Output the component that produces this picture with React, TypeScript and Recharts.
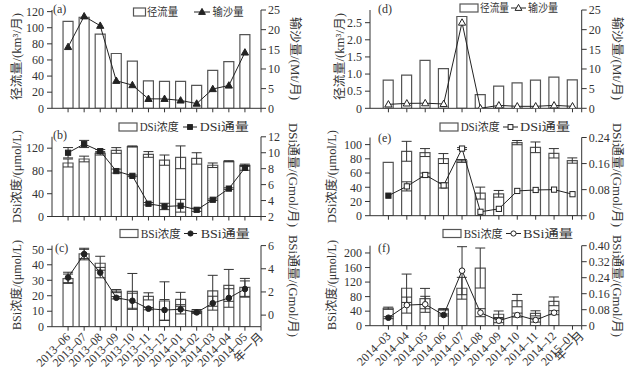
import React from "react";
import { ComposedChart, Bar, Line, XAxis, YAxis, ErrorBar } from "recharts";

const W = 632;
const H = 377;
const FONT = '"Liberation Serif", "Times New Roman", "Noto Sans CJK SC", serif';
const INK = "#333";

// left column: 2013-06 .. 2014-05
const monthsL = ["2013–06", "2013–07", "2013–08", "2013–09", "2013–10", "2013–11", "2013–12", "2014–01", "2014–02", "2014–03", "2014–04", "2014–05"];
const runoffL = [108, 113, 92, 68, 58.5, 34, 33.5, 33.5, 28.5, 47, 58, 91.5];
const sedimentL = [15.6, 23.4, 21, 7, 5.9, 2.4, 2.4, 2, 1.2, 4.9, 5.8, 14.2];
const dsiConcL = [94, 101, 111, 116, 123, 109, 99, 104, 102, 90, 97, 90];
const dsiConcErrL = [7, 5, 3, 5, 1, 5, 9, 20, 10, 4, 1, 2];
const dsiFluxL = [10, 11.1, 10.2, 7.7, 7.1, 3.6, 3.26, 3.35, 2.84, 4.1, 5.5, 8.1];
const dsiFluxErrL = [0.65, 0.45, 0.2, 0.25, 0.1, 0.15, 0.4, 0.8, 0.2, 0.1, 0.1, 0.3];
const bsiConcL = [31, 47, 41, 23, 22.8, 19.6, 16.6, 17.7, 10.1, 23.2, 26.7, 25.4];
const bsiConcErrL = [3, 3, 4.5, 1, 11.6, 2.3, 12.4, 4.5, 1, 10, 10.3, 5.8];
const bsiFluxL = [3.25, 5.27, 3.67, 1.5, 1.24, 0.56, 0.44, 0.5, 0.23, 1.03, 1.48, 2.25];
const bsiFluxErrL = [0.45, 0.5, 0.45, 0.1, 0.65, 0.1, 0.9, 0.4, 0.1, 0.6, 0.8, 0.7];

// right column: 2014-03 .. 2015-01
const monthsR = ["2014–03", "2014–04", "2014–05", "2014–06", "2014–07", "2014–08", "2014–09", "2014–10", "2014–11", "2014–12", "2015–01"];
const runoffR = [0.82, 0.97, 1.4, 1.16, 2.68, 0.4, 0.65, 0.74, 0.82, 0.91, 0.83];
const sedimentR = [1.0, 1.25, 1.3, 1.1, 21.8, 0, 0.75, 0.5, 0.5, 0.75, 0.5];
const dsiConcR = [75, 90.6, 88.8, 80.4, 77, 31.8, 30.8, 102.8, 96.2, 87.8, 77.6];
const dsiConcErrR = [0, 14, 5.6, 7, 2, 8.4, 4.7, 3, 7.5, 6.6, 3.7];
const dsiFluxR = [0.0615, 0.09, 0.125, 0.093, 0.206, 0.012, 0.021, 0.076, 0.079, 0.08, 0.066];
const dsiFluxErrR = [0, 0.014, 0.006, 0.008, 0.003, 0, 0, 0, 0, 0, 0];
const bsiConcR = [48, 103, 74.6, 45, 103, 158.6, 31.5, 69, 34, 67, null];
const bsiConcErrR = [3, 39, 28, 2, 30, 55, 9, 17, 7, 12, null];
const bsiFluxR = [0.04, 0.103, 0.107, 0.0535, 0.275, 0.065, 0.025, 0.053, 0.028, 0.065, null];
const bsiFluxErrR = [0.005, 0.04, 0.04, 0.005, 0.12, 0.02, 0.01, 0.01, 0.01, 0.01, null];

const dataL = monthsL.map((m, i) => ({
  x: i + 1,
  runoff: runoffL[i],
  sediment: sedimentL[i],
  dsiConc: dsiConcL[i],
  dsiConcErr: dsiConcErrL[i],
  dsiFlux: dsiFluxL[i],
  dsiFluxErr: dsiFluxErrL[i],
  bsiConc: bsiConcL[i],
  bsiConcErr: bsiConcErrL[i],
  bsiFlux: bsiFluxL[i],
  bsiFluxErr: bsiFluxErrL[i],
}));

const dataR = monthsR.map((m, i) => ({
  x: i + 1,
  runoff: runoffR[i],
  sediment: sedimentR[i],
  dsiConc: dsiConcR[i],
  dsiConcErr: dsiConcErrR[i],
  dsiFlux: dsiFluxR[i],
  dsiFluxErr: dsiFluxErrR[i],
  bsiConc: bsiConcR[i],
  bsiConcErr: bsiConcErrR[i],
  bsiFlux: bsiFluxR[i],
  bsiFluxErr: bsiFluxErrR[i],
}));

const xTicksL = [1, 2, 3, 4, 5, 6, 7, 8, 9, 10, 11, 12, 13];
const xTicksR = [1, 2, 3, 4, 5, 6, 7, 8, 9, 10, 11, 11.5];
const labelL = (v: number) => (v === 13 ? "年一月" : monthsL[v - 1]);
const labelR = (v: number) => (v === 11.5 ? "年一月" : monthsR[v - 1]);

function makeDot(shape: string, filled: (i: number) => boolean) {
  return (p: any) => {
    const { cx, cy, index, value } = p;
    if (cx == null || cy == null || value == null) return <g key={`d${index}`} />;
    const fill = filled(index) ? "#222" : "#fff";
    if (shape === "tri") {
      return (
        <polygon key={`d${index}`} points={`${cx},${cy - 3.8} ${cx - 3.6},${cy + 2.6} ${cx + 3.6},${cy + 2.6}`} fill={fill} stroke="#222" strokeWidth={1} />
      );
    }
    if (shape === "sq") {
      return <rect key={`d${index}`} x={cx - 2.6} y={cy - 2.6} width={5.2} height={5.2} fill={fill} stroke="#222" strokeWidth={1} />;
    }
    return <circle key={`d${index}`} cx={cx} cy={cy} r={2.8} fill={fill} stroke="#222" strokeWidth={1} />;
  };
}

function Panel(props: any) {
  const { data, box, xDomain, xTicks, xLabel, showX, left, right, bar, barErr, line, lineErr, dot } = props;
  const yW = 40;
  const xH = 50;
  const margin = { top: box.t, bottom: H - box.b - xH, left: box.l - yW, right: W - box.r - yW };
  const tickStyle = { fill: INK, fontSize: 12, fontFamily: FONT };
  return (
    <div style={{ position: "absolute", left: 0, top: 0 }}>
      <ComposedChart width={W} height={H} data={data} margin={margin}>
        <XAxis
          type="number"
          dataKey="x"
          domain={xDomain}
          ticks={xTicks}
          interval={0}
          allowDataOverflow
          height={xH}
          tickSize={4}
          stroke={INK}
          tick={(t: any) =>
            showX ? (
              <text
                key={`t${t.index}`}
                x={t.x + 3}
                y={t.y + 5}
                transform={`rotate(-45, ${t.x + 3}, ${t.y + 5})`}
                textAnchor="end"
                fill={INK}
                fontSize={12}
                fontFamily={FONT}
              >
                {xLabel(t.payload.value)}
              </text>
            ) : (
              <g key={`t${t.index}`} />
            )
          }
        />
        <YAxis
          yAxisId="l"
          orientation="left"
          width={yW}
          domain={left.domain}
          ticks={left.ticks}
          interval={0}
          tickFormatter={left.fmt}
          allowDataOverflow
          tickSize={5}
          tickMargin={3}
          stroke={INK}
          tick={tickStyle}
        />
        <YAxis
          yAxisId="r"
          orientation="right"
          width={yW}
          domain={right.domain}
          ticks={right.ticks}
          interval={0}
          tickFormatter={right.fmt}
          allowDataOverflow
          tickSize={5}
          tickMargin={2}
          stroke={INK}
          tick={tickStyle}
        />
        <Bar yAxisId="l" dataKey={bar} barSize={10} fill="#fff" stroke="#555" strokeWidth={1.2} isAnimationActive={false}>
          {barErr ? <ErrorBar dataKey={barErr} width={5} stroke={INK} strokeWidth={1} direction="y" /> : null}
        </Bar>
        <Line yAxisId="r" dataKey={line} stroke="#222" strokeWidth={1} dot={dot} activeDot={false} isAnimationActive={false}>
          {lineErr ? <ErrorBar dataKey={lineErr} width={5} stroke={INK} strokeWidth={1} direction="y" /> : null}
        </Line>
      </ComposedChart>
    </div>
  );
}

const LX = { l: 52, r: 261 };
const RX = { l: 370, r: 581.7 };
const fmt2 = (v: number) => (v === 0 ? "0" : v.toFixed(2));
const fmt1 = (v: number) => (v === 0 ? "0" : v.toFixed(1));

// legend: box, first label, line with marker, second label
function LegendItem({ cy, box, t1, ln, t2, label1, label2, marker, filled }: any) {
  const fill = filled ? "#222" : "#fff";
  const mx = (ln[0] + ln[1]) / 2;
  let m;
  if (marker === "tri") m = <polygon points={`${mx},${cy - 3.6} ${mx - 3.4},${cy + 2.4} ${mx + 3.4},${cy + 2.4}`} fill={fill} stroke="#222" />;
  else if (marker === "sq") m = <rect x={mx - 2.4} y={cy - 2.4} width={4.8} height={4.8} fill={fill} stroke="#222" />;
  else m = <circle cx={mx} cy={cy} r={2.6} fill={fill} stroke="#222" />;
  return (
    <g>
      <rect x={box[0]} y={cy - 4} width={box[1]} height={8} fill="#fff" stroke="#555" strokeWidth={1.2} />
      <text x={t1[0]} y={cy + 4} fontSize={11.5} fontFamily={FONT} fill={INK} textLength={t1[1]} lengthAdjust="spacingAndGlyphs">
        {label1}
      </text>
      <line x1={ln[0]} x2={ln[1]} y1={cy} y2={cy} stroke="#222" />
      {m}
      <text x={t2[0]} y={cy + 4} fontSize={11.5} fontFamily={FONT} fill={INK} textLength={t2[1]} lengthAdjust="spacingAndGlyphs">
        {label2}
      </text>
    </g>
  );
}

function VText({ x, y, rot, len, children }: any) {
  return (
    <text
      transform={`translate(${x}, ${y}) rotate(${rot})`}
      textAnchor="middle"
      dominantBaseline="central"
      fontSize={12}
      fontFamily={FONT}
      fill={INK}
      textLength={len}
      lengthAdjust="spacingAndGlyphs"
    >
      {children}
    </text>
  );
}

function PLabel({ x, y, children }: any) {
  return (
    <text x={x} y={y} fontSize={12} fontFamily={FONT} fill={INK}>
      {children}
    </text>
  );
}

export default function App() {
  return (
    <div style={{ position: "absolute", left: 0, top: 0, width: W, height: H, background: "#fff" }}>
      {/* (a) */}
      <Panel
        data={dataL} box={{ ...LX, t: 10, b: 108.3 }} xDomain={[0, 13]} xTicks={xTicksL} xLabel={labelL} showX={false}
        left={{ domain: [0, 122], ticks: [0, 20, 40, 60, 80, 100, 120] }}
        right={{ domain: [0, 25], ticks: [0, 5, 10, 15, 20, 25] }}
        bar="runoff" line="sediment" dot={makeDot("tri", () => true)}
      />
      {/* (b) */}
      <Panel
        data={dataL} box={{ ...LX, t: 136.8, b: 216.5 }} xDomain={[0, 13]} xTicks={xTicksL} xLabel={labelL} showX={false}
        left={{ domain: [0, 140], ticks: [0, 40, 80, 120] }}
        right={{ domain: [2, 12], ticks: [2, 4, 6, 8, 10, 12] }}
        bar="dsiConc" barErr="dsiConcErr" line="dsiFlux" lineErr="dsiFluxErr" dot={makeDot("sq", () => true)}
      />
      {/* (c) */}
      <Panel
        data={dataL} box={{ ...LX, t: 245.6, b: 326.7 }} xDomain={[0, 13]} xTicks={xTicksL} xLabel={labelL} showX={true}
        left={{ domain: [0, 52.4], ticks: [0, 10, 20, 30, 40, 50] }}
        right={{ domain: [-1, 6], ticks: [0, 2, 4, 6] }}
        bar="bsiConc" barErr="bsiConcErr" line="bsiFlux" lineErr="bsiFluxErr" dot={makeDot("circ", () => true)}
      />
      {/* (d) */}
      <Panel
        data={dataR} box={{ ...RX, t: 10, b: 108.3 }} xDomain={[0, 11.5]} xTicks={xTicksR} xLabel={labelR} showX={false}
        left={{ domain: [0, 2.87], ticks: [0, 0.5, 1, 1.5, 2, 2.5], fmt: fmt1 }}
        right={{ domain: [0, 25], ticks: [0, 5, 10, 15, 20, 25] }}
        bar="runoff" line="sediment" dot={makeDot("tri", () => false)}
      />
      {/* (e) */}
      <Panel
        data={dataR} box={{ ...RX, t: 137.5, b: 215.7 }} xDomain={[0, 11.5]} xTicks={xTicksR} xLabel={labelR} showX={false}
        left={{ domain: [0, 110], ticks: [0, 20, 40, 60, 80, 100] }}
        right={{ domain: [0, 0.24], ticks: [0, 0.08, 0.16, 0.24], fmt: fmt2 }}
        bar="dsiConc" barErr="dsiConcErr" line="dsiFlux" lineErr="dsiFluxErr" dot={makeDot("sq", (i) => i === 0)}
      />
      {/* (f) */}
      <Panel
        data={dataR} box={{ ...RX, t: 245.7, b: 325.7 }} xDomain={[0, 11.5]} xTicks={xTicksR} xLabel={labelR} showX={true}
        left={{ domain: [0, 220], ticks: [0, 40, 80, 120, 160, 200] }}
        right={{ domain: [0, 0.4], ticks: [0, 0.08, 0.16, 0.24, 0.32, 0.4], fmt: fmt2 }}
        bar="bsiConc" barErr="bsiConcErr" line="bsiFlux" lineErr="bsiFluxErr" dot={makeDot("circ", (i) => i === 0 || i === 3)}
      />

      <svg width={W} height={H} style={{ position: "absolute", left: 0, top: 0, pointerEvents: "none" }}>
        <PLabel x={53} y={13}>(a)</PLabel>
        <PLabel x={53} y={139}>(b)</PLabel>
        <PLabel x={55} y={252}>(c)</PLabel>
        <PLabel x={378} y={13}>(d)</PLabel>
        <PLabel x={378} y={142}>(e)</PLabel>
        <PLabel x={378} y={252}>(f)</PLabel>

        <LegendItem cy={12} box={[133.5, 12]} t1={[147, 31]} ln={[194, 210]} t2={[212.5, 31]} label1="径流量" label2="输沙量" marker="tri" filled />
        <LegendItem cy={127} box={[119, 18]} t1={[139.7, 39]} ln={[183, 197]} t2={[199.7, 49]} label1="DSi浓度" label2="DSi通量" marker="sq" filled />
        <LegendItem cy={233.5} box={[120, 18]} t1={[140.7, 40]} ln={[184, 197]} t2={[200.7, 49]} label1="BSi浓度" label2="BSi通量" marker="circ" filled />
        <LegendItem cy={8} box={[460, 18]} t1={[480, 29]} ln={[511, 526]} t2={[528, 30]} label1="径流量" label2="输沙量" marker="tri" filled={false} />
        <LegendItem cy={127} box={[440, 18]} t1={[460.7, 39]} ln={[503, 518]} t2={[520, 50]} label1="DSi浓度" label2="DSi通量" marker="sq" filled={false} />
        <LegendItem cy={233.5} box={[443, 18]} t1={[463.7, 39]} ln={[506, 521]} t2={[523, 50]} label1="BSi浓度" label2="BSi通量" marker="circ" filled={false} />

        <VText x={17} y={56.5} rot={-90} len={87}>径流量/(km³/月)</VText>
        <VText x={295} y={58.5} rot={90} len={83}>输沙量/(Mt/月)</VText>
        <VText x={17} y={176.5} rot={-90} len={93}>DSi浓度/(μmol/L)</VText>
        <VText x={293} y={175} rot={90} len={104}>DSi通量/(Gmol/月)</VText>
        <VText x={17} y={285} rot={-90} len={90}>BSi浓度/(μmol/L)</VText>
        <VText x={293} y={286} rot={90} len={102}>BSi通量/(Gmol/月)</VText>

        <VText x={340} y={56.5} rot={-90} len={87}>径流量/(km³/月)</VText>
        <VText x={617} y={58.5} rot={90} len={83}>输沙量/(Mt/月)</VText>
        <VText x={332} y={176.5} rot={-90} len={93}>DSi浓度/(μmol/L)</VText>
        <VText x={617} y={175} rot={90} len={104}>DSi通量/(Gmol/月)</VText>
        <VText x={332} y={285} rot={-90} len={90}>BSi浓度/(μmol/L)</VText>
        <VText x={617} y={286} rot={90} len={102}>BSi通量/(Gmol/月)</VText>
      </svg>
    </div>
  );
}
